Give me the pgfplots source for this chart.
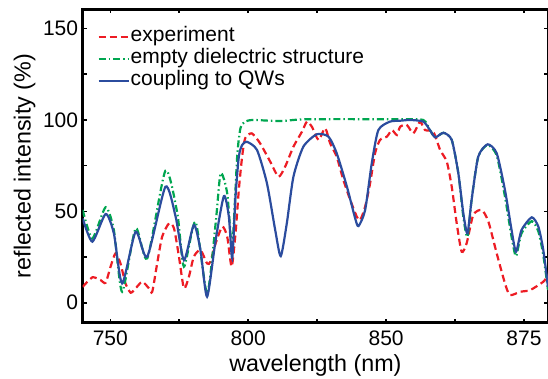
\documentclass[border=0pt]{standalone}
\usepackage{fontspec}
\setmainfont{Liberation Sans}
\usepackage{pgfplots}
\pgfplotsset{compat=1.18}
\definecolor{cred}{RGB}{237,28,36}
\definecolor{cgreen}{RGB}{0,166,80}
\definecolor{cblue}{RGB}{43,76,158}
\begin{document}
\begin{tikzpicture}
\path[use as bounding box] (-82.7pt,-55.3pt) rectangle (465.3pt,322.7pt);
\begin{axis}[
  at={(0,0)}, anchor=south west,
  scale only axis, width=465.3pt, height=313.4pt,
  xmin=740, xmax=908.7, ymin=-10.9, ymax=160.4,
  xtick={750,775,...,900}, xticklabels={750,,800,,850,,875},
  ytick={0,25,...,150}, yticklabels={0,,50,,100,,150},
  /pgf/number format/assume math mode=true,
  tick align=inside, major tick length=4pt,
  every tick/.style={line width=1.5pt, black},
  axis line style={line width=3pt},
  tick label style={font=\fontsize{21}{25}\selectfont},
  xticklabel style={anchor=base, yshift=-22.3pt},
  yticklabel style={anchor=east, inner sep=0pt, xshift=-4.4pt},
  clip=true,
  legend cell align=left,
  legend style={draw=none, fill=none, at={(rel axis cs:0.025,0.955)}, anchor=north west,
    font=\fontsize{21}{25}\selectfont, row sep=0pt,
    nodes={inner sep=1pt, text height=15pt, text depth=5pt}},
  legend image code/.code={\draw[#1] (0pt,0pt) -- (30pt,0pt);},
]
\addplot[cred, line width=2.2pt, dash pattern=on 7pt off 4pt, smooth, tension=0.4] coordinates {
(740,8.7) (743.5,13.9) (746.5,12.4) (748.3,10.9) (750.1,19.7) (751.9,27.0) (753.7,21.5)
(755.5,10.6) (757.4,5.5) (759.2,7.9) (761.6,11.5) (764.0,7.9) (765.2,6.0) (767.0,21.5)
(768.8,36.1) (771.3,43.4) (773.1,40.7) (774.9,25.2) (776.7,7.9) (778.5,14.2) (780.3,25.2)
(782.7,28.8) (785.1,21.5) (786.3,22.4) (788.2,32.5) (790.6,41.6) (792.4,36.1) (794.0,19.7)
(795.4,37.9) (796.6,61.6) (797.8,79.8) (798.9,89.9) (801.3,92.6) (804.3,87.2) (808.0,77.1)
(811.0,68.9) (813.4,74.4) (816.4,85.3) (819.5,93.5) (821.3,99.0) (823.1,96.2) (825.5,89.0)
(827.9,95.4) (829.7,87.2) (832.1,79.8) (834.5,67.1) (837.0,56.2) (839.4,47.0) (840.6,45.2)
(842.4,52.5) (844.2,65.3) (846.0,81.7) (847.8,89.0) (850.3,90.8) (852.1,94.4) (853.9,91.7)
(855.1,96.2) (857.5,97.2) (859.9,92.6) (862.3,99.0) (864.1,94.4) (867.1,93.5) (869.6,83.5)
(872.0,77.1) (873.8,63.4) (875.6,43.4) (877.4,27.9) (879.2,32.5) (881.6,48.0) (884.7,50.7)
(887.1,44.3) (890.1,27.0) (893.1,10.6) (894.9,4.2) (898.6,6.0) (902.2,6.9) (907.0,11.5)
(908.7,15.1)
};
\addlegendentry{experiment}
\addplot[cgreen, line width=2.2pt, dash pattern=on 7pt off 3pt on 1.5pt off 3pt, smooth, tension=0.4] coordinates {
(740,50.7) (743.5,35.2) (748.3,52.2) (751.3,39.7) (754.3,6.0) (759.2,40.7) (763.4,24.3)
(770.0,72.2) (774.3,48.9) (776.7,19.7) (780.9,44.3) (785.1,5.1) (788.2,43.4) (790.0,70.7)
(792.4,59.8) (794.2,30.6) (796.0,79.8) (797.2,95.4) (798.9,99.0) (801.9,99.9) (811.6,99.3)
(821.3,100.3) (855.1,100.3) (863.5,99.9) (865.9,94.4) (867.8,90.4) (870.8,92.9) (873.8,89.0)
(876.2,70.7) (878.0,47.0) (879.5,36.0) (881.0,56.2) (883.4,79.8) (886.8,86.2) (890.1,80.5)
(893.1,58.0) (895.5,36.0) (897.1,25.5) (899.1,38.0) (902.8,44.6) (905.2,39.0) (907.0,26.0)
(908.7,7.0)
};
\addlegendentry{empty dielectric structure}
\addplot[cblue, line width=2.2pt, smooth, tension=0.4] coordinates {
(740,46.1) (743.5,33.4) (748.3,48.5) (751.3,37.9) (754.3,10.6) (759.2,38.8) (763.4,25.2)
(770.0,63.4) (773.7,47.0) (776.7,23.3) (780.3,42.5) (782.7,28.8) (785.1,3.3) (788.2,34.3)
(791.2,58.3) (793.0,47.0) (794.2,24.3) (795.4,58.0) (796.6,79.8) (797.8,86.2) (799.5,88.0)
(803.2,83.5) (806.8,65.3) (809.8,39.7) (811.8,25.5) (814.0,43.4) (816.4,68.9) (820.0,85.3)
(824.9,92.1) (829.1,90.8) (832.1,81.7) (835.8,63.4) (838.8,46.1) (840.0,41.9) (842.4,50.7)
(844.8,76.2) (847.2,94.4) (851.4,99.0) (855.1,99.5) (858.7,99.9) (863.5,99.0) (865.9,94.4)
(867.8,90.4) (870.8,92.9) (873.8,89.0) (876.2,70.7) (878.0,48.9) (879.5,37.9) (881.0,56.2)
(883.4,79.8) (886.8,86.6) (890.1,81.7) (893.1,61.6) (895.5,39.7) (897.1,27.9) (899.1,39.7)
(902.8,46.7) (905.2,41.6) (907.0,28.8) (908.7,8.7)
};
\addlegendentry{coupling to QWs}
\end{axis}
\node[rotate=90, anchor=center, font=\fontsize{23.3}{27}\selectfont] at (-58pt,156.7pt) {reflected intensity (\%)};
\node[anchor=base, font=\fontsize{23.3}{27}\selectfont] at (232.7pt,-49pt) {wavelength (nm)};
\end{tikzpicture}
\end{document}
